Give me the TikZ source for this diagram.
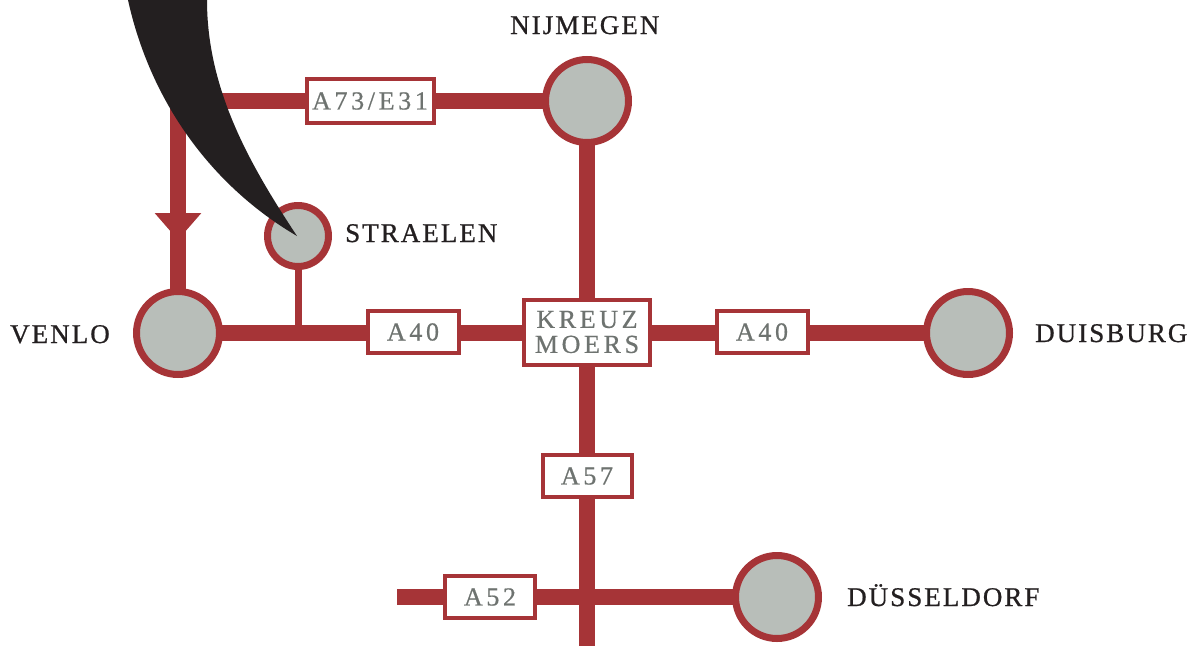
\documentclass[tikz,border=0pt]{standalone}
\usepackage{fontspec}
\setmainfont{Liberation Serif}
\newfontfamily\cityfont[LetterSpace=7.5,FakeBold=0.8]{Liberation Serif}
\newfontfamily\roadfont[LetterSpace=14,FakeBold=0.6]{Liberation Serif}
\usetikzlibrary{arrows.meta,backgrounds,decorations.markings}
\definecolor{roadred}{RGB}{166,52,55}
\definecolor{stopgray}{RGB}{184,190,185}
\definecolor{signgray}{RGB}{110,115,112}
\definecolor{ink}{RGB}{35,31,32}
\tikzset{
  road/.style={roadred,line width=16pt},
  lane/.style={roadred,line width=7pt},
  city/.style={circle,draw=roadred,fill=stopgray,line width=7pt,minimum size=83pt,inner sep=0pt},
  town/.style={city,minimum size=61pt},
  sign/.style={draw=roadred,fill=white,line width=4pt,text=signgray,font=\roadfont\fontsize{26}{25}\selectfont,
    minimum width=91pt,minimum height=42pt,inner sep=0pt,align=center},
  place/.style={text=ink,font=\cityfont\fontsize{27}{27}\selectfont,inner sep=0pt,anchor=base west},
}
\begin{document}
\begin{tikzpicture}[x=1pt,y=1pt]
  \useasboundingbox (0,0) rectangle (1195,-646);
  \node[city] (nijmegen) at (587,-101) {};
  \node[city] (venlo) at (178,-333) {};
  \node[city] (duisburg) at (968,-333) {};
  \node[city] (duesseldorf) at (777,-597) {};
  \node[town] (straelen) at (298,-236) {};
  \node[sign,minimum width=126pt,minimum height=65pt] (kreuz) at (587,-332) {KREUZ\\MOERS};
  \node[sign] (a40w) at (413,-332) {A40};
  \node[sign] (a40e) at (762,-332) {A40};
  \node[sign,minimum width=89pt] (a57) at (587,-476) {A57};
  \node[sign,minimum width=90pt] (a52) at (490,-597) {A52};
  \node[sign,minimum width=127pt,minimum height=44pt] (a73) at (370,-101) {A73/E31};
  \coordinate (south end) at (587,-646);
  \coordinate (west end) at (397,-597);
  \begin{scope}[on background layer]
    \draw[road,postaction={decorate},decoration={markings,
      mark=at position 548pt with {\arrow{Triangle[width=45pt,length=27pt]}}}]
      (nijmegen.center) -| (venlo.center);
    \draw[road] (venlo.center) -- (duisburg.center);
    \draw[road] (nijmegen.center) -- (south end);
    \draw[road] (west end) -- (duesseldorf.center);
    \draw[lane] (straelen.center) -- (straelen |- venlo);
  \end{scope}
  \node[place] (nijmegen label) at (510,-34) {NIJMEGEN};
  \node[place] (straelen label) at (345,-242) {STRAELEN};
  \node[place] (venlo label) at (10,-343) {VENLO};
  \node[place] (duisburg label) at (1035,-342) {DUISBURG};
  \node[place] (duesseldorf label) at (847,-606) {DÜSSELDORF};
  \fill[ink] (128,0) .. controls (150,-100) and (210,-185) .. (297,-236)
    .. controls (250,-165) and (207,-90) .. (207,0) -- cycle;
\end{tikzpicture}
\end{document}
